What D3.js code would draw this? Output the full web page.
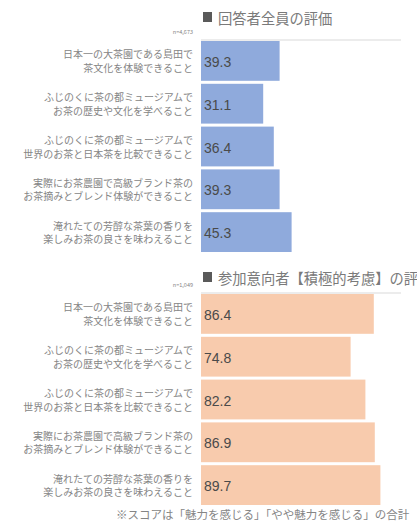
<!DOCTYPE html>
<html>
<head>
<meta charset="utf-8">
<script src="https://cdn.jsdelivr.net/npm/d3@7"></script>
<style>
  html, body { margin: 0; padding: 0; background: #ffffff; }
  svg { display: block; }
  .cat { font-family: "Noto Sans CJK JP", "Noto Sans", sans-serif; fill: #858585; }
  .ttl { font-family: "Noto Sans CJK JP", "Noto Sans", sans-serif; fill: #7a7a7a; }
  .val { font-family: "Liberation Sans", Arial, sans-serif; fill: #4a4a4a; }
</style>
</head>
<body>
<div id="chart"></div>
<script>
// categories (two lines each)
var categories = [
  ["日本一の大茶園である島田で", "茶文化を体験できること"],
  ["ふじのくに茶の都ミュージアムで", "お茶の歴史や文化を学べること"],
  ["ふじのくに茶の都ミュージアムで", "世界のお茶と日本茶を比較できること"],
  ["実際にお茶農園で高級ブランド茶の", "お茶摘みとブレンド体験ができること"],
  ["淹れたての芳醇な茶葉の香りを", "楽しみお茶の良さを味わえること"]
];
var allValues = [39.3, 31.1, 36.4, 39.3, 45.3];
var intentValues = [86.4, 74.8, 82.2, 86.9, 89.7];
var titles = ["回答者全員の評価", "参加意向者【積極的考慮】の評価"];
var sampleSizes = ["n=4,673", "n=1,049"];
var footnote = "※スコアは「魅力を感じる」「やや魅力を感じる」の合計";

var width = 417, height = 526;

var svg = d3.select("#chart").append("svg")
    .attr("width", width)
    .attr("height", height);

var x = d3.scaleLinear().domain([0, 100]).range([201, 401]);

/*------------------------------------------------------------
 * one panel: title, n label, axis line, bars, labels
 *------------------------------------------------------------*/
function panel(values, color, title, n, titleY, top, bottom) {
  var g = svg.append("g");

  var y = d3.scaleBand()
      .domain(d3.range(values.length))
      .range([top, bottom])
      .paddingInner(0.07);

  // square marker + title
  g.append("rect")
      .attr("x", 203).attr("y", titleY - 5)
      .attr("width", 9).attr("height", 10)
      .attr("fill", "#5a5a5a");

  g.append("text")
      .attr("class", "ttl")
      .attr("x", 218)
      .attr("y", titleY)
      .attr("font-size", 14.3)
      .attr("dominant-baseline", "central")
      .text(title);

  g.append("text")
      .attr("class", "cat")
      .attr("x", 193)
      .attr("y", top - 9)
      .attr("font-size", 5.5)
      .attr("text-anchor", "end")
      .attr("dominant-baseline", "central")
      .text(n);

  g.append("line")
      .attr("x1", x(0)).attr("x2", x(100))
      .attr("y1", top - 1).attr("y2", top - 1)
      .attr("stroke", "#d9d9d9")
      .attr("stroke-width", 1);

  g.selectAll("rect.bar")
      .data(values)
    .enter().append("rect")
      .attr("class", "bar")
      .attr("x", x(0))
      .attr("y", function(d, i) { return y(i); })
      .attr("width", function(d) { return x(d) - x(0); })
      .attr("height", y.bandwidth())
      .attr("fill", color);

  g.selectAll("text.val")
      .data(values)
    .enter().append("text")
      .attr("class", "val")
      .attr("x", x(0) + 3)
      .attr("y", function(d, i) { return y(i) + y.bandwidth() / 2 + 1; })
      .attr("font-size", 14)
      .attr("dominant-baseline", "central")
      .text(function(d) { return d.toFixed(1); });

  var lab = g.selectAll("text.lab")
      .data(categories)
    .enter().append("text")
      .attr("class", "cat")
      .attr("text-anchor", "end")
      .attr("font-size", 10)
      .attr("y", function(d, i) { return y(i) + y.bandwidth() / 2 + 1; });

  lab.selectAll("tspan")
      .data(function(d) { return d; })
    .enter().append("tspan")
      .attr("x", 193)
      .attr("dy", function(d, j) { return j === 0 ? -3.5 : 13.5; })
      .text(function(d) { return d; });
}

panel(allValues, "#8faadc", titles[0], sampleSizes[0], 17, 41, 252);
panel(intentValues, "#f8cbad", titles[1], sampleSizes[1], 277, 294, 505);

// footnote runs past the right edge as in the source picture
svg.append("text")
    .attr("class", "cat")
    .attr("x", 116)
    .attr("y", 514)
    .attr("font-size", 11.5)
    .attr("dominant-baseline", "central")
    .text(footnote);
</script>
</body>
</html>
